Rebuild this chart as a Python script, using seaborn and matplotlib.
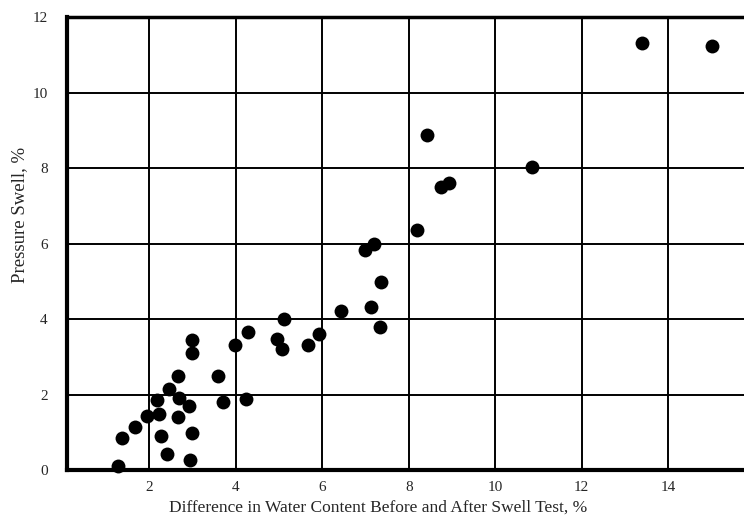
"""Scatter: pressure swell vs. change in water content (scanned chart redraw)."""
import matplotlib
matplotlib.use("Agg")
import matplotlib.pyplot as plt
import pandas as pd
import seaborn as sns

# water content difference, %
water_diff = [
    1.28, 1.38, 1.68, 1.94, 2.17, 2.23, 2.27, 2.41, 2.46, 2.66,
    2.69, 2.66, 2.93, 2.98, 2.94, 3.00, 2.98, 3.58, 3.70, 3.98,
    4.24, 4.29, 4.95, 5.07, 5.11, 5.67, 5.93, 6.44, 7.00, 7.20,
    7.13, 7.34, 7.36, 8.20, 8.42, 8.74, 8.92, 10.86, 13.40, 15.00,
]
# pressure swell, %
pressure_swell = [
    0.10, 0.84, 1.13, 1.44, 1.86, 1.48, 0.90, 0.43, 2.15, 2.50,
    1.92, 1.40, 1.70, 0.98, 0.28, 3.45, 3.09, 2.48, 1.80, 3.32,
    1.89, 3.66, 3.48, 3.22, 3.99, 3.30, 3.61, 4.22, 5.83, 6.00,
    4.33, 3.78, 4.98, 6.36, 8.88, 7.49, 7.60, 8.04, 11.32, 11.23,
]
x_ticks = [2, 4, 6, 8, 10, 12, 14]
y_ticks = [0, 2, 4, 6, 8, 10, 12]

df = pd.DataFrame({"diff": water_diff, "swell": pressure_swell})

sns.set_style("white")
plt.rcParams["font.family"] = ["Liberation Serif", "DejaVu Serif"]

fig = plt.figure(figsize=(7.44, 5.16), dpi=100)
ax = fig.add_axes([0.09, 0.089, 0.91, 0.878])

sns.scatterplot(data=df, x="diff", y="swell", color="black", s=100,
                edgecolor="black", linewidth=0, ax=ax, zorder=3, clip_on=False)

ax.set_xlim(0.1, 15.75)
ax.set_ylim(0, 12)
ax.set_xticks(x_ticks)
ax.set_yticks(y_ticks)
ax.grid(True, color="black", linewidth=1.4)
ax.tick_params(axis="x", length=0, labelsize=11, pad=8)
ax.tick_params(axis="y", length=0, labelsize=11, pad=14)

for side in ["left", "bottom"]:
    ax.spines[side].set_linewidth(3)
    ax.spines[side].set_color("black")
ax.spines["top"].set_linewidth(2.5)
ax.spines["top"].set_color("black")
ax.spines["right"].set_visible(False)

ax.set_xlabel("Difference in Water Content Before and After Swell Test, %", fontsize=12.5)
ax.set_ylabel("Pressure Swell, %", fontsize=13.5)
ax.xaxis.set_label_coords(0.46, -0.065)
ax.yaxis.set_label_coords(-0.058, 0.563)

fig.savefig("out.png", dpi=100)
plt.close(fig)
